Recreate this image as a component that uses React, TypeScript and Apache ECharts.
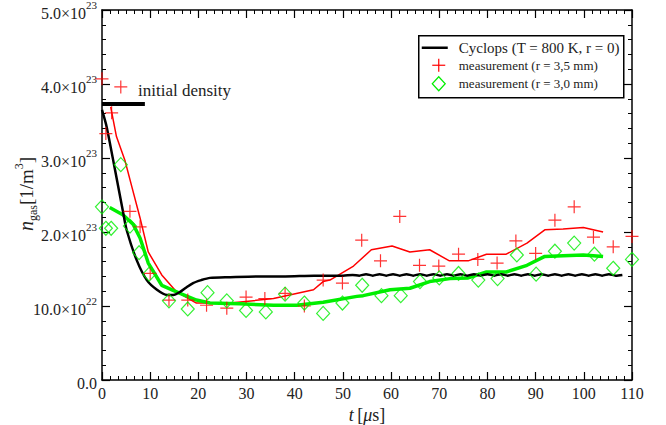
import React, { useEffect, useRef } from "react";
import * as echarts from "echarts";

// ---- data (t in µs, density in units of 1e22 1/m^3) ----
const initT = [0, 8.9];
const initV = [37.3, 37.3];

const cyclopsT = [0, 0.97, 2.7, 4.4, 5.1, 7.2, 9.3, 11.4, 13.5, 14.8, 16.2, 17.5, 18.9, 20.6, 22.4, 26.6, 32, 38, 44, 50, 52,
  53.4, 54.8, 56.2, 57.6, 59, 60.4, 61.8, 63.2, 64.6, 66, 67.4, 68.8, 70.2, 71.6, 73, 74.4, 75.8, 77.2, 78.6, 80,
  81.4, 82.8, 84.2, 85.6, 87, 88.4, 89.8, 91.2, 92.6, 94, 95.4, 96.8, 98.2, 99.6, 101, 102.4, 103.8, 105.2, 106.6, 108];
const cyclopsV = [36.5, 34.2, 28.4, 22.6, 20.3, 16.2, 13.5, 12.2, 11.5, 11.5, 11.9, 12.5, 13.1, 13.5, 13.8, 13.9, 14.0, 14.0, 14.1, 14.1, 14.2,
  14.1, 14.3, 14.1, 14.3, 14.1, 14.3, 14.1, 14.3, 14.1, 14.3, 14.1, 14.3, 14.1, 14.3, 14.1, 14.3, 14.1, 14.3, 14.1, 14.3,
  14.1, 14.3, 14.1, 14.3, 14.1, 14.3, 14.1, 14.3, 14.1, 14.3, 14.1, 14.3, 14.1, 14.3, 14.1, 14.3, 14.1, 14.3, 14.1, 14.2];

const redLineT = [1.8, 3.0, 4.75, 6.2, 7.9, 9.6, 12.4, 15.5, 19.6, 26.6, 35.6, 43.9, 45.9, 47.3, 52.2, 55.9, 60.2, 63.9, 68.0, 72.1, 76.0, 79.8, 83.9, 88.2, 91.9, 95.7, 99.9, 104.0];
const redLineV = [36.9, 32.9, 29.7, 26.1, 21.9, 17.3, 14.2, 11.9, 10.4, 10.4, 11.0, 12.2, 13.3, 13.5, 15.4, 17.6, 18.1, 17.3, 17.6, 16.1, 16.1, 17.0, 17.0, 18.5, 20.3, 20.4, 20.6, 20.0];

const greenLineT = [1.6, 4.4, 6.5, 7.9, 9.6, 12.4, 16.2, 19.6, 22.4, 28.6, 35.6, 40.4, 45.9, 52.9, 54.2, 59.8, 63.9, 68.0, 72.2, 76.0, 79.8, 83.9, 88.2, 91.9, 95.7, 99.9, 104.0];
const greenLineV = [23.3, 22.3, 21.0, 19.2, 15.8, 12.8, 11.7, 10.8, 10.4, 10.3, 10.1, 10.1, 10.5, 11.3, 11.4, 12.2, 12.4, 13.3, 13.7, 13.8, 14.6, 14.6, 15.5, 16.7, 16.8, 16.9, 16.7];

const redPtsT = [0, 0.8, 2.0, 3.9, 5.8, 7.9, 10.0, 13.9, 17.8, 21.7, 25.9, 29.9, 33.8, 38.0, 42.0, 45.9, 49.9, 53.9, 57.8, 61.8, 65.9, 69.9, 74.0, 78.0, 82.0, 85.9, 90.0, 94.0, 98.0, 102.0, 106.1, 110];
const redPtsV = [40.7, 33.3, 36.1, 39.6, 22.8, 20.7, 14.4, 10.8, 10.8, 10.1, 9.7, 11.2, 11.0, 11.7, 10.0, 13.5, 13.1, 18.9, 16.1, 22.1, 15.5, 15.4, 17.0, 16.3, 15.8, 18.8, 17.1, 21.6, 23.4, 19.3, 18.0, 19.4];

const greenPtsT = [0, 0.8, 1.9, 3.9, 5.8, 7.7, 9.8, 13.9, 17.8, 21.9, 25.9, 29.9, 34.0, 38.0, 42.0, 45.9, 49.9, 54.0, 58.0, 62.0, 66.0, 70.0, 74.0, 78.1, 82.1, 86.1, 90.1, 94.0, 98.0, 102.2, 106.1, 110];
const greenPtsV = [23.4, 20.5, 20.5, 29.1, 20.8, 17.2, 14.3, 10.7, 9.6, 11.8, 10.7, 9.4, 9.2, 11.6, 10.4, 9.0, 10.4, 12.8, 11.4, 11.4, 13.3, 13.8, 14.4, 13.5, 13.7, 16.9, 14.3, 17.4, 18.5, 17.0, 15.1, 16.3];

const yTickMant = ["0.0", "10.0", "2.0", "3.0", "4.0", "5.0"];
const yTickExp = ["", "22", "23", "23", "23", "23"];

const legendNames = ["Cyclops (T = 800 K, r = 0)", "measurement (r = 3,5 mm)", "measurement (r = 3,0 mm)"];

const FONT = "'Liberation Serif', 'Times New Roman', serif";

const zip = (t: number[], v: number[]) => t.map((x, i) => [x, v[i]]);

export default function App() {
  const ref = useRef<HTMLDivElement>(null);
  useEffect(() => {
    if (!ref.current) return;
    const chart = echarts.init(ref.current, undefined, { renderer: "svg" });
    const axisLine = { show: true, onZero: false, lineStyle: { color: "#000", width: 1.5 } };
    const axisTick = { show: true, inside: true, length: 8, lineStyle: { color: "#000", width: 1.2 } };
    const xMinor = { show: true, splitNumber: 6, length: 4, lineStyle: { color: "#000", width: 1 } };
    const yMinor = { show: true, splitNumber: 5, length: 4, lineStyle: { color: "#000", width: 1 } };
    const option: any = {
      animation: false,
      grid: { left: 102, right: 34, top: 10, bottom: 45, containLabel: false, outerBoundsMode: "none" },
      xAxis: [
        {
          type: "value", min: 0, max: 110, interval: 10, position: "bottom",
          axisLine, axisTick, minorTick: xMinor, splitLine: { show: false },
          axisLabel: { fontFamily: FONT, fontSize: 16, color: "#222", margin: 5 },
          name: "{i|t} {r|[}{i|μ}{r|s]}", nameLocation: "middle", nameGap: 24,
          nameTextStyle: {
            rich: {
              i: { fontFamily: FONT, fontSize: 18, fontStyle: "italic", color: "#222" },
              r: { fontFamily: FONT, fontSize: 18, color: "#222" },
            },
          },
        },
        {
          type: "value", min: 0, max: 110, interval: 10, position: "top",
          axisLine, axisTick, minorTick: xMinor, splitLine: { show: false },
          axisLabel: { show: false },
        },
      ],
      yAxis: [
        {
          type: "value", min: 0, max: 50, interval: 10, position: "left",
          axisLine, axisTick, minorTick: yMinor, splitLine: { show: false },
          axisLabel: {
            margin: 5,
            formatter: (v: number) => {
              const i = Math.round(v / 10);
              return i === 0 ? `{b|${yTickMant[0]}}` : `{b|${yTickMant[i]}×10}{s|${yTickExp[i]}}`;
            },
            rich: {
              b: { fontFamily: FONT, fontSize: 16, color: "#222", lineHeight: 22, verticalAlign: "bottom" },
              s: { fontFamily: FONT, fontSize: 11, color: "#222", lineHeight: 22, verticalAlign: "top" },
            },
          },
        },
        {
          type: "value", min: 0, max: 50, interval: 10, position: "right",
          axisLine, axisTick, minorTick: yMinor, splitLine: { show: false },
          axisLabel: { show: false },
        },
      ],
      series: [
        {
          name: "initial density", type: "line", data: zip(initT, initV), showSymbol: false, symbol: "none",
          lineStyle: { color: "#000", width: 4 }, z: 3,
        },
        {
          name: "red line", type: "line", data: zip(redLineT, redLineV), symbol: "none",
          lineStyle: { color: "#ff0000", width: 1.5 }, z: 3,
        },
        {
          name: "green line", type: "line", data: zip(greenLineT, greenLineV), symbol: "none",
          lineStyle: { color: "#00ee00", width: 3.5 }, z: 3,
        },
        {
          name: legendNames[0], type: "line", data: zip(cyclopsT, cyclopsV), symbol: "none", smooth: 0.25,
          lineStyle: { color: "#000", width: 2.5 }, z: 4,
        },
        {
          name: legendNames[1], type: "scatter", data: zip(redPtsT, redPtsV), clip: false,
          symbol: "path://M7,0L7,14M0,7L14,7", symbolSize: 13,
          itemStyle: { color: "rgba(0,0,0,0)", borderColor: "#ff0000", borderWidth: 1.2 }, z: 5,
        },
        {
          name: legendNames[2], type: "scatter", data: zip(greenPtsT, greenPtsV), clip: false,
          symbol: "diamond", symbolSize: [13, 14],
          itemStyle: { color: "rgba(0,0,0,0)", borderColor: "#00ee00", borderWidth: 1.2 }, z: 5,
        },
      ],
      graphic: [
        {
          type: "text", x: 26, y: 194, rotation: Math.PI / 2,
          style: {
            text: "{n|n}{g|gas}{b|[1/m}{s|3}{b|]}", align: "center", verticalAlign: "middle",
            rich: {
              n: { fontFamily: FONT, fontSize: 20, fontStyle: "italic", fill: "#222", lineHeight: 26, verticalAlign: "middle" },
              g: { fontFamily: FONT, fontSize: 12, fill: "#222", lineHeight: 26, verticalAlign: "bottom" },
              b: { fontFamily: FONT, fontSize: 19, fill: "#222", lineHeight: 26, verticalAlign: "middle" },
              s: { fontFamily: FONT, fontSize: 12, fill: "#222", lineHeight: 26, verticalAlign: "top" },
            },
          },
        },
        {
          type: "text", left: 138, top: 82,
          style: { text: "initial density", fontFamily: FONT, fontSize: 17, fill: "#222" },
        },
        {
          type: "group", left: 418, top: 35, children: [
            { type: "rect", shape: { x: 0, y: 0, width: 205, height: 62 }, style: { fill: "#fff", stroke: "#000", lineWidth: 1.5 } },
            { type: "line", shape: { x1: 3, y1: 12, x2: 29, y2: 12 }, style: { stroke: "#000", lineWidth: 2.5 } },
            { type: "text", x: 40, y: 12, style: { text: legendNames[0], fontFamily: FONT, fontSize: 15, fill: "#222", verticalAlign: "middle" } },
            { type: "line", shape: { x1: 20, y1: 23, x2: 20, y2: 36 }, style: { stroke: "#ff0000", lineWidth: 1.2 } },
            { type: "line", shape: { x1: 13.5, y1: 29.5, x2: 26.5, y2: 29.5 }, style: { stroke: "#ff0000", lineWidth: 1.2 } },
            { type: "text", x: 40, y: 30, style: { text: legendNames[1], fontFamily: FONT, fontSize: 13, fill: "#222", verticalAlign: "middle" } },
            { type: "polygon", shape: { points: [[20, 41], [26.5, 48], [20, 55], [13.5, 48]] }, style: { fill: "none", stroke: "#00ee00", lineWidth: 1.2 } },
            { type: "text", x: 40, y: 48, style: { text: legendNames[2], fontFamily: FONT, fontSize: 13, fill: "#222", verticalAlign: "middle" } },
          ],
        },
      ],
    };
    chart.setOption(option);
    return () => chart.dispose();
  }, []);
  return <div ref={ref} style={{ width: 666, height: 425, position: "absolute", left: 0, top: 0 }} />;
}
